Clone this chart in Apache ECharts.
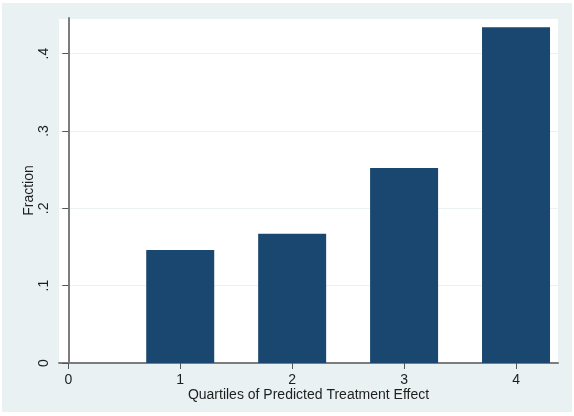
<!DOCTYPE html>
<html>
<head>
<meta charset="utf-8">
<script src="https://cdn.jsdelivr.net/npm/echarts@6/dist/echarts.min.js"></script>
<style>
  html, body { margin: 0; padding: 0; background: #fff; }
  #panel { position: absolute; left: 2px; top: 3px; width: 570px; height: 409px; background: #eaf1f3; }
  #main { position: absolute; left: 0; top: 0; width: 574px; height: 416px; }
</style>
</head>
<body>
<div id="panel"></div>
<div id="main"></div>
<script>
// quartile bins and the share of observations in each
var quartiles = [0, 1, 2, 3, 4];
var fractions = [0, 0.146, 0.167, 0.252, 0.434];
var xTicks = [0, 1, 2, 3, 4];

var chart = echarts.init(document.getElementById('main'));

var textFont = {
    fontFamily: 'Liberation Sans, Arial, sans-serif',
    fontSize: 14,
    color: '#1e1e1e'
};

var option = {
    backgroundColor: 'transparent',
    animation: false,
    grid: {
        left: 59,
        top: 18,
        width: 499,
        height: 345,
        show: true,
        backgroundColor: '#ffffff',
        borderWidth: 0
    },
    xAxis: {
        type: 'value',
        min: -0.083,
        max: 4.375,
        name: 'Quartiles of Predicted Treatment Effect',
        nameLocation: 'middle',
        nameGap: 25,
        nameMoveOverlap: false,
        nameTextStyle: textFont,
        axisLine: { lineStyle: { color: '#7d7d7d', width: 2 } },
        axisTick: { show: true, length: 6, customValues: xTicks, lineStyle: { color: '#555' } },
        axisLabel: Object.assign({ customValues: xTicks, margin: 10 }, textFont),
        splitLine: { show: false }
    },
    yAxis: {
        type: 'value',
        min: 0,
        max: 0.446,
        interval: 0.1,
        name: 'Fraction',
        nameLocation: 'middle',
        nameRotate: 90,
        nameGap: 23,
        nameMoveOverlap: false,
        nameTextStyle: textFont,
        axisLine: { show: true, lineStyle: { color: '#7d7d7d', width: 2 } },
        axisTick: { show: true, length: 6, lineStyle: { color: '#555' } },
        axisLabel: Object.assign({
            rotate: 90,
            margin: 8,
            showMaxLabel: false,
            formatter: function (v) {
                if (v === 0) return '0';
                return '.' + Math.round(v * 10);
            }
        }, textFont),
        splitLine: { show: true, lineStyle: { color: '#eaf2f3', width: 1 } }
    },
    series: [{
        type: 'bar',
        barWidth: 68,
        itemStyle: { color: '#1a476f' },
        data: quartiles.map(function (q, i) { return [q, fractions[i]]; })
    }]
};

chart.setOption(option);
</script>
</body>
</html>
